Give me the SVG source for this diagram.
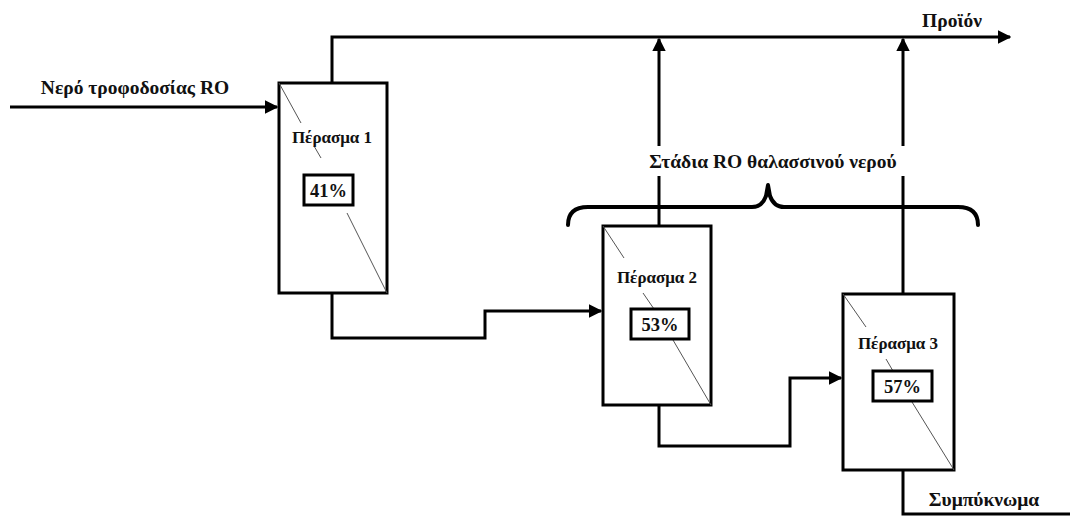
<svg xmlns="http://www.w3.org/2000/svg" width="1075" height="516" viewBox="0 0 1075 516">
<style>
.box{fill:#fff;stroke:#000;stroke-width:3}
.pct{fill:#fff;stroke:#000;stroke-width:3}
.diag{stroke:#555;stroke-width:1;fill:none}
.wire{fill:none;stroke:#000;stroke-width:3}
.brace{fill:none;stroke:#000;stroke-width:4;stroke-linecap:round;stroke-linejoin:round}
.t{font-family:"Liberation Serif",serif;font-weight:bold;fill:#111;text-anchor:middle}
.lbl{font-size:19.5px}
.nm{font-size:17px}
.pc{font-size:18.5px}
</style>
<defs>
<marker id="ah" viewBox="0 0 10 10" refX="9" refY="5" markerWidth="4.5" markerHeight="4.5" orient="auto" markerUnits="strokeWidth">
<path d="M0,0 L10,5 L0,10 z" fill="#000"/>
</marker>
</defs>
<g id="connectors">
<polyline class="wire" points="10,107 277,107" marker-end="url(#ah)"/>
<polyline class="wire" points="332,82 332,37 1010,37" marker-end="url(#ah)"/>
<polyline class="wire" points="659,226 659,39" marker-end="url(#ah)"/>
<polyline class="wire" points="903,294 903,39" marker-end="url(#ah)"/>
<polyline class="wire" points="332,293 332,338 485,338 485,311 601,311" marker-end="url(#ah)"/>
<polyline class="wire" points="659,405 659,446 790,446 790,378 841,378" marker-end="url(#ah)"/>
<polyline class="wire" points="903,470 903,514 1070,514"/>
</g>
<g id="stage-label">
<rect x="640" y="146" width="280" height="30" fill="#fff"/>
<path class="brace" d="M568,225 Q568,207 588,207 L752,207 Q762,207 766,196 L768,185 L770,196 Q774,207 784,207 L958,207 Q978,207 978,225"/>
<text class="t lbl" x="773" y="168">Στάδια RO θαλασσινού νερού</text>
</g>
<g id="feed-label"><text class="t lbl" x="135" y="94">Νερό τροφοδοσίας RO</text></g>
<g id="product-label"><text class="t lbl" x="952" y="27">Προϊόν</text></g>
<g id="concentrate-label"><text class="t lbl" x="984" y="506">Συμπύκνωμα</text></g>
<g id="pass1">
<rect class="box" x="279" y="83" width="108" height="210"/>
<line class="diag" x1="279" y1="83" x2="301" y2="123"/>
<line class="diag" x1="314" y1="146" x2="321" y2="158"/>
<line class="diag" x1="347" y1="213" x2="387" y2="293"/>
<text class="t nm" x="332" y="143">Πέρασμα 1</text>
<rect class="pct" x="304" y="175" width="49" height="30"/>
<text class="t pc" x="328.5" y="197">41%</text>
</g>
<g id="pass2">
<rect class="box" x="603" y="226" width="108" height="179"/>
<line class="diag" x1="603" y1="226" x2="624" y2="258"/>
<line class="diag" x1="643" y1="293" x2="654" y2="309"/>
<line class="diag" x1="673" y1="340" x2="711" y2="405"/>
<text class="t nm" x="657" y="283">Πέρασμα 2</text>
<rect class="pct" x="631" y="309" width="58" height="30"/>
<text class="t pc" x="660" y="331">53%</text>
</g>
<g id="pass3">
<rect class="box" x="843" y="294" width="111" height="176"/>
<line class="diag" x1="843" y1="294" x2="866" y2="327"/>
<line class="diag" x1="886" y1="359" x2="893" y2="371"/>
<line class="diag" x1="912" y1="402" x2="954" y2="470"/>
<text class="t nm" x="898" y="349">Πέρασμα 3</text>
<rect class="pct" x="873" y="371" width="59" height="30"/>
<text class="t pc" x="902.5" y="393">57%</text>
</g>
</svg>
